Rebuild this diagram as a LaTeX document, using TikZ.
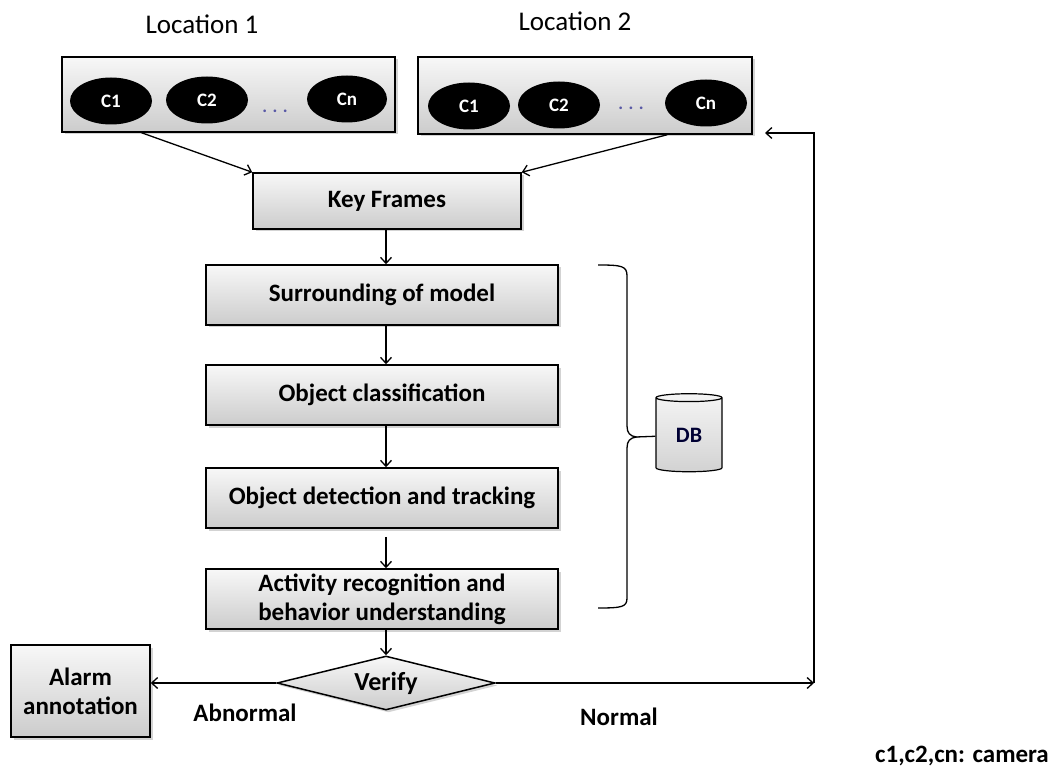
\documentclass[tikz,border=0pt]{standalone}
\usepackage{fontspec}
\setmainfont{Carlito}
\usepackage{tikz}
\usetikzlibrary{shapes,arrows.meta,positioning,calc,shadows}

\begin{document}
\begin{tikzpicture}[
    x=1pt, y=-1pt,
    box/.style={rectangle, draw, line width=1.5pt, top color=gray!6, bottom color=gray!40,
        drop shadow={shadow xshift=2.5pt, shadow yshift=-2.5pt, opacity=0.35},
        align=center, inner sep=2pt, font=\fontsize{25}{29}\selectfont\bfseries},
    cam/.style={ellipse, fill=black, text=white, minimum width=82pt, minimum height=47pt,
        inner sep=0pt, font=\fontsize{19}{22}\selectfont\bfseries},
    dots/.style={text=gray!70!blue, font=\fontsize{18}{20}\selectfont\bfseries},
    decision/.style={diamond, draw, line width=1.5pt, top color=gray!6, bottom color=gray!40,
        drop shadow={shadow xshift=2.5pt, shadow yshift=-2.5pt, opacity=0.35},
        aspect=3.9, minimum width=218pt, minimum height=54pt, inner sep=0pt,
        font=\fontsize{26}{29}\selectfont\bfseries},
    db/.style={cylinder, shape border rotate=90, aspect=0.3, draw, line width=1.2pt,
        top color=gray!8, bottom color=gray!35, minimum width=66pt, minimum height=78pt,
        inner sep=0pt, text=black!80!blue, font=\fontsize{22}{26}\selectfont\bfseries},
    lbl/.style={font=\fontsize{25}{29}\selectfont\bfseries},
    ->, >={Straight Barb[length=6pt,width=11pt]}, line width=1.3pt
]
    \useasboundingbox (0,0) rectangle (1055,767);

    % Locations and cameras
    \node[font=\fontsize{27}{30}\selectfont] (locAtitle) at (202,24) {Location 1};
    \node[font=\fontsize{27}{30}\selectfont] (locBtitle) at (575,21) {Location 2};
    \node[box, minimum width=333pt, minimum height=75pt] (locA) at (228.5,94.5) {};
    \node[box, minimum width=334pt, minimum height=77pt] (locB) at (585,95.5) {};

    \node[cam] (a1) at (111,101) {C1};
    \node[cam] (a2) at (207,100) {C2};
    \node[dots] (adots) at (275,111) {. . .};
    \node[cam, minimum width=80pt] (an) at (347,99) {Cn};

    \node[cam] (b1) at (469,106) {C1};
    \node[cam] (b2) at (559,105) {C2};
    \node[dots] (bdots) at (631,108) {. . .};
    \node[cam] (bn) at (706,103) {Cn};

    % Processing chain
    \node[box, minimum width=268pt, minimum height=56pt] (kf) at (387,201) {Key Frames};
    \node[box, minimum width=352pt, minimum height=60pt] (surr) at (382,295) {Surrounding of model};
    \node[box, minimum width=352pt, minimum height=60pt] (cls) at (382,395) {Object classification};
    \node[box, minimum width=352pt, minimum height=60pt] (det) at (382,498) {Object detection and tracking};
    \node[box, minimum width=352pt, minimum height=60pt] (act) at (382,599) {Activity recognition and\\behavior understanding};
    \node[decision] (verify) at (386,683) {Verify};
    \node[box, minimum width=139pt, minimum height=92pt] (alarm) at (80.5,691) {Alarm\\annotation};

    \node[lbl] (abn) at (245,713) {Abnormal};
    \node[lbl] (nrm) at (619,717) {Normal};
    \node[font=\fontsize{25}{28}\selectfont\bfseries] (legend) at (962,756) {c1,c2,cn: camera};

    \node[db] (db) at (689,435) {DB};
    \coordinate (tip) at (636,437);
    \coordinate (turn) at (814,683);
    \coordinate (back) at (765,133);

    % Connectors
    \draw ($(locA.south west)!0.24!(locA.south east)$) -- (kf.north west);
    \draw ($(locB.south west)!0.745!(locB.south east)$) -- (kf.north east);
    \draw (kf.south -| verify) -- (surr.north -| verify);
    \draw (surr.south -| verify) -- (cls.north -| verify);
    \draw (cls.south -| verify) -- (det.north -| verify);
    \draw[shorten <=8pt] (det.south -| verify) -- (act.north -| verify);
    \draw (act.south -| verify) -- (verify.north);
    \draw (verify.west) -- (verify.west -| alarm.east);
    \draw (verify.east) -- (turn);
    \draw (turn) -- (turn |- back) -- (back);

    % Bracket to the database
    \draw[-] (598,265) .. controls (622,265) and (627,266) .. (627,276) -- (627,426)
        .. controls (627,433) and (630,436) .. (tip)
        .. controls (630,438) and (627,441) .. (627,448) -- (627,598)
        .. controls (627,607) and (622,608) .. (598,608);
    \draw[-] (tip) -- (db);
\end{tikzpicture}
\end{document}
